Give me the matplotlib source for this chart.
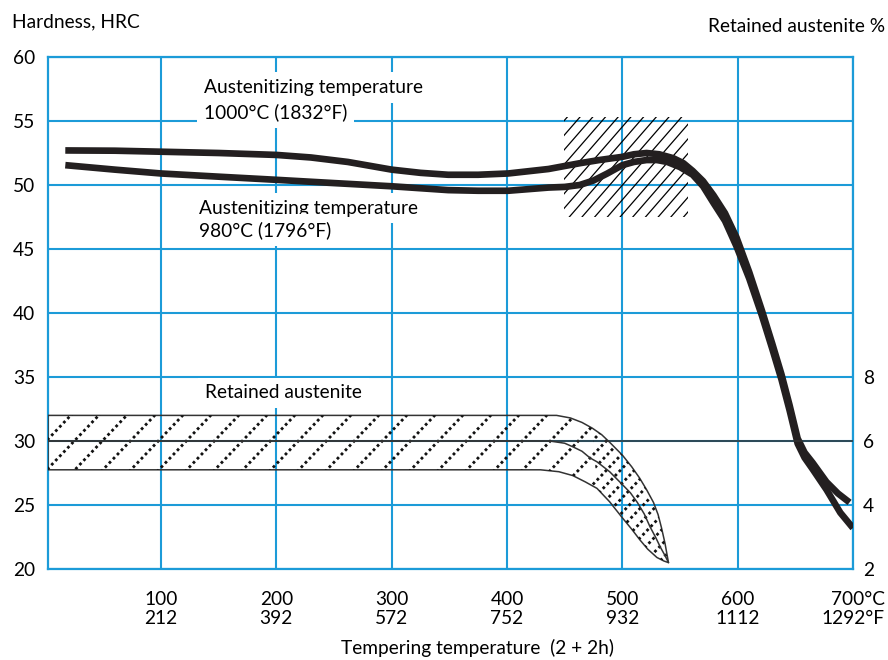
import numpy as np
import matplotlib
matplotlib.use('Agg')
import matplotlib.pyplot as plt
from matplotlib.patches import Polygon, Rectangle

# hardness curves, tempering temp (C) vs HRC
temp_1000 = [17, 60, 100, 150, 200, 230, 262, 300, 325, 349, 375, 401, 436, 463, 480, 500,
             510, 521, 532, 544, 553, 561, 570, 579, 589, 599, 610, 621, 630, 638, 645, 652,
             658, 665, 677, 687, 697]
hrc_1000 = [52.7, 52.68, 52.6, 52.5, 52.35, 52.15, 51.8, 51.2, 50.95, 50.8, 50.8, 50.9, 51.25,
            51.7, 51.95, 52.2, 52.4, 52.5, 52.4, 52.1, 51.7, 51.1, 50.3, 49.2, 47.8, 45.9, 43.2,
            40.2, 37.6, 35.2, 32.8, 30.2, 29.1, 28.3, 26.8, 25.9, 25.2]
temp_980 = [17, 60, 100, 150, 201, 250, 300, 349, 375, 401, 436, 450, 463, 475, 487, 500, 510,
            521, 530, 539, 550, 561, 570, 579, 589, 599, 610, 621, 630, 638, 645, 652, 658, 665,
            677, 689, 700]
hrc_980 = [51.55, 51.2, 50.9, 50.65, 50.4, 50.15, 49.9, 49.6, 49.55, 49.55, 49.8, 49.85, 50.0,
           50.35, 50.9, 51.55, 51.8, 51.95, 51.95, 51.8, 51.4, 50.8, 49.9, 48.6, 47.2, 45.2, 42.7,
           39.8, 37.2, 34.8, 32.4, 29.8, 28.7, 27.8, 26.2, 24.4, 23.2]

# retained austenite band (%), right axis
ra_top_t = [2, 443, 455, 465, 474, 482, 489, 500, 508, 515, 521, 527, 531, 534, 537, 540]
ra_top = [6.8, 6.8, 6.72, 6.58, 6.4, 6.2, 5.96, 5.56, 5.2, 4.84, 4.48, 4.08, 3.7, 3.28, 2.8, 2.2]
ra_mid_t = [2, 437, 450, 457, 465, 472, 478, 489, 500, 507, 513, 519, 524, 529, 533, 537, 540]
ra_mid = [6.0, 6.0, 5.93, 5.82, 5.68, 5.47, 5.35, 5.04, 4.64, 4.38, 4.08, 3.72, 3.32, 2.98, 2.68,
          2.42, 2.2]
ra_low_t = [2, 429, 445, 457, 468, 478, 489, 500, 508, 515, 522, 530, 536, 540]
ra_low = [5.1, 5.1, 5.04, 4.92, 4.72, 4.52, 4.1, 3.6, 3.25, 2.92, 2.62, 2.36, 2.25, 2.2]

# scatter box around the peak
box_t = [449, 557]
box_hrc = [47.5, 55.3]

celsius = [100, 200, 300, 400, 500, 600, 700]
fahrenheit = [212, 392, 572, 752, 932, 1112, 1292]
hrc_ticks = [20, 25, 30, 35, 40, 45, 50, 55, 60]
ra_ticks = [2, 4, 6, 8]

blue = '#1c9bd8'
plt.rcParams['font.family'] = ['Lato', 'DejaVu Sans']
plt.rcParams['font.size'] = 13.8

W, H = 888, 660
fig = plt.figure(figsize=(W / 100, H / 100), dpi=100)
axl, axb, axr, axt = 48, 569, 853, 57
ax = fig.add_axes([axl / W, 1 - axb / H, (axr - axl) / W, (axb - axt) / H])
ax.set_xlim(2, 700)
ax.set_ylim(20, 60)
ax2 = ax.twinx()
ax2.set_ylim(2, 18)

ax.set_axisbelow(True)
ax.grid(True, color=blue, lw=1.5)
for s in ax.spines.values():
    s.set_color(blue)
    s.set_linewidth(1.6)
for s in ax2.spines.values():
    s.set_visible(False)

ax.set_xticks(celsius)
labels = [f'{c}\n{f}' for c, f in zip(celsius, fahrenheit)]
labels[-1] = '700°C\n1292°F'
ax.set_xticklabels(labels, linespacing=1.15)
ax.get_xticklabels()[-1].set_multialignment('right')
ax.set_yticks(hrc_ticks)
ax.tick_params(axis='x', length=0, pad=16)
ax.tick_params(axis='y', length=0, pad=9)
ax2.set_yticks(ra_ticks)
ax2.tick_params(axis='y', length=0, pad=7)

pw, ph = axr - axl, axb - axt  # axes size in px


def hatch(axis, clip, spacing, slope, offset=0.0, **kw):
    # diagonal lines in axes fraction, clipped to a patch
    for x0 in np.arange(-ph / slope + offset, pw, spacing):
        ln, = axis.plot([x0 / pw, (x0 + ph / slope) / pw], [0, 1],
                        transform=axis.transAxes, **kw)
        ln.set_clip_path(clip)


# hatched box
rect = Rectangle((box_t[0], box_hrc[0]), box_t[1] - box_t[0], box_hrc[1] - box_hrc[0],
                 transform=ax.transData)
hatch(ax, rect, 12.7, 1.15, color='black', lw=0.9, zorder=1.5)

# hardness curves
for tt, hh in [(temp_1000, hrc_1000), (temp_980, hrc_980)]:
    ax.plot(tt, hh, color='#231f20', lw=4.8, solid_joinstyle='round',
            solid_capstyle='butt', zorder=3)

# retained austenite band
band = Polygon(np.column_stack([ra_top_t + ra_low_t[::-1], ra_top + ra_low[::-1]]),
               closed=True, fill=False, edgecolor='#333333', lw=1.1)
ax2.add_patch(band)
tail = [i for i, t in enumerate(ra_top_t) if t >= 470]
tail_low = [i for i, t in enumerate(ra_low_t) if t >= 470]
tail_poly = Polygon(np.column_stack([[ra_top_t[i] for i in tail] + [ra_low_t[i] for i in tail_low][::-1],
                                     [ra_top[i] for i in tail] + [ra_low[i] for i in tail_low][::-1]]),
                    closed=True, transform=ax2.transData)
dash = dict(color='#111111', lw=2.0, linestyle=(0, (1.0, 1.1)))
hatch(ax2, band, 28, 1.05, **dash)
hatch(ax2, tail_poly, 28, 1.05, offset=14, **dash)
ax2.plot(ra_mid_t, ra_mid, color='#333333', lw=1.1)
ax2.axhline(6, color='#333333', lw=1.1)

box = dict(facecolor='white', edgecolor='none', pad=5)
ax.text(137, 57.6, 'Austenitizing temperature', va='center', bbox=box, zorder=2.5)
ax.text(137, 55.7, '1000°C (1832°F)', va='center', bbox=box, zorder=2.5)
ax.text(133, 48.2, 'Austenitizing temperature', va='center', bbox=box, zorder=2.5)
ax.text(133, 46.5, '980°C (1796°F)', va='center', bbox=box, zorder=2.5)
ax.text(138, 33.75, 'Retained austenite', va='center', bbox=box, zorder=2.5)

fig.text(12 / W, 1 - 22 / H, 'Hardness, HRC', va='center')
fig.text(885 / W, 1 - 27 / H, 'Retained austenite %', ha='right', va='center')
fig.text(477 / W, 1 - 648 / H, 'Tempering temperature  (2 + 2h)', ha='center', va='center')

fig.savefig('out.png', dpi=100)
